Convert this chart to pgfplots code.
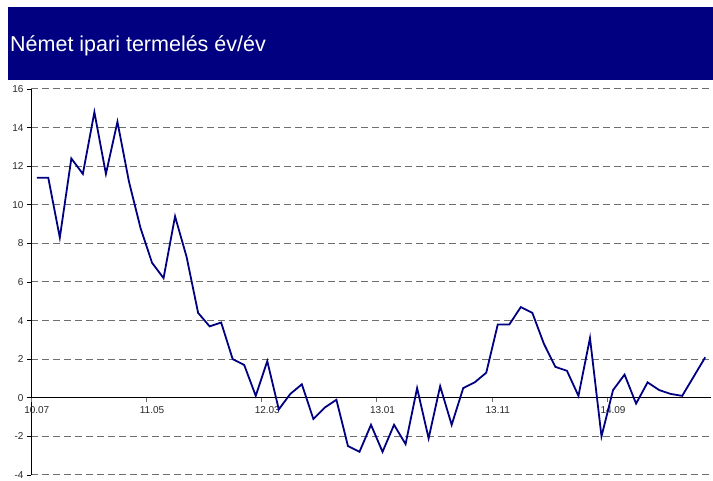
\documentclass[border=0pt]{standalone}
\usepackage{fontspec}
\setmainfont{Liberation Sans}
\usepackage{pgfplots}
\pgfplotsset{compat=1.18}
\usetikzlibrary{calc}
\definecolor{navy}{RGB}{0,0,128}
\definecolor{gridgray}{RGB}{110,110,110}
\definecolor{ticktext}{RGB}{40,40,40}

% month index 0 = 2010.07
\pgfplotstableread{
k v
0 11.4
1 11.4
2 8.3
3 12.4
4 11.6
5 14.8
6 11.6
7 14.3
8 11.2
9 8.8
10 7.0
11 6.2
12 9.4
13 7.3
14 4.4
15 3.7
16 3.9
17 2.0
18 1.7
19 0.1
20 1.9
21 -0.6
22 0.2
23 0.7
24 -1.1
25 -0.5
26 -0.1
27 -2.5
28 -2.8
29 -1.4
30 -2.8
31 -1.4
32 -2.4
33 0.5
34 -2.1
35 0.6
36 -1.4
37 0.5
38 0.8
39 1.3
40 3.8
41 3.8
42 4.7
43 4.4
44 2.8
45 1.6
46 1.4
47 0.1
48 3.1
49 -2.0
50 0.4
51 1.2
52 -0.3
53 0.8
54 0.4
55 0.2
56 0.1
57 1.1
58 2.1
}\prodtable

\begin{document}
\begin{tikzpicture}
\begin{axis}[
    scale only axis,
    width=680pt, height=386pt,
    xmin=-0.5, xmax=58.5,
    ymin=-4, ymax=16,
    axis x line=middle, axis y line=left,
    axis line style={-, black, line width=0.8pt},
    ytick={-4,-2,...,16},
    ymajorgrids,
    major grid style={gridgray, dash pattern=on 7pt off 4pt, line width=1pt},
    xtick={0,10,...,50},
    xticklabels={10.07,11.05,12.03,13.01,13.11,14.09},
    x tick style={draw=none},
    xticklabel style={yshift=-1pt},
    extra x ticks={-0.5,9.5,...,49.5},
    extra x tick labels={},
    extra x tick style={grid=none, x tick style={draw=gridgray, line width=0.8pt}},
    y tick style={black, line width=0.8pt},
    tick align=outside,
    major tick length=4pt,
    tick label style={font=\fontsize{10}{12}\selectfont, text=ticktext},
    /pgf/number format/assume math mode=true,
    clip=false,
    ]
    \addplot[navy, line width=1.8pt, mark=none] table[x=k, y=v] {\prodtable};
\end{axis}
\fill[navy] ($(current axis.north west)+(-23pt,9pt)$) rectangle ($(current axis.north east)+(2pt,82pt)$);
\node[anchor=base west, text=white, font=\fontsize{21.5}{25}\selectfont, inner sep=0pt]
    at ($(current axis.north west)+(-21pt,37pt)$) {Német ipari termelés év/év};
\pgfresetboundingbox
\path[use as bounding box] ($(current axis.south west)+(-31pt,-6pt)$) rectangle ($(current axis.north east)+(2pt,89pt)$);
\end{tikzpicture}
\end{document}
